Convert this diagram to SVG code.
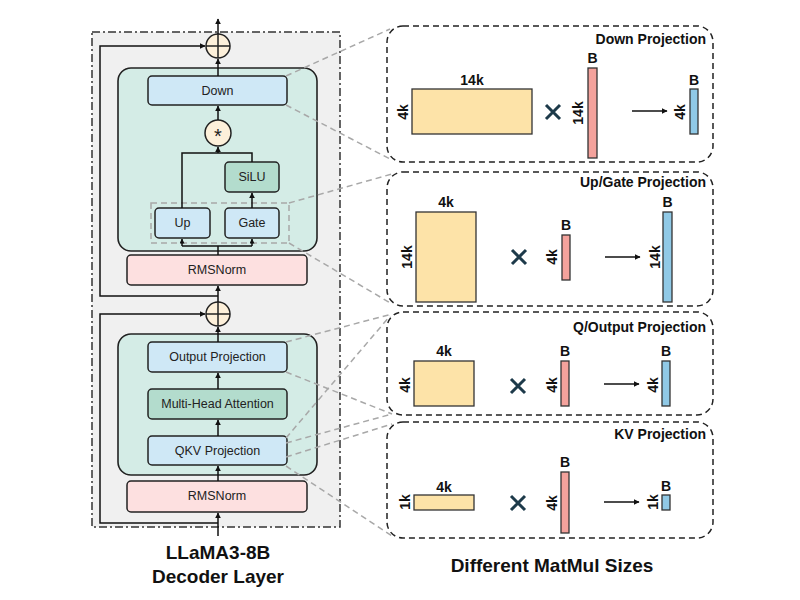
<svg xmlns="http://www.w3.org/2000/svg" width="800" height="600" viewBox="0 0 800 600">
<defs>
<marker id="ah" viewBox="0 0 10 10" refX="9" refY="5" markerWidth="6" markerHeight="6" markerUnits="userSpaceOnUse" orient="auto">
<path d="M0,0 L10,5 L0,10 z" fill="#111"/>
</marker>
<marker id="ahs" viewBox="0 0 10 10" refX="9" refY="5" markerWidth="5" markerHeight="5" markerUnits="userSpaceOnUse" orient="auto">
<path d="M0,0 L10,5 L0,10 z" fill="#111"/>
</marker>
</defs>
<style>
.lbl{font-family:"Liberation Sans",Arial,sans-serif;font-size:12.5px;fill:#222;text-anchor:middle}
.b{font-family:"Liberation Sans",Arial,sans-serif;font-weight:bold;font-size:14px;fill:#111;text-anchor:middle}
.ttl{font-family:"Liberation Sans",Arial,sans-serif;font-weight:bold;font-size:14px;fill:#111;text-anchor:end}
.cap{font-family:"Liberation Sans",Arial,sans-serif;font-weight:bold;font-size:19px;fill:#111;text-anchor:middle}
.node{stroke:#222;stroke-width:1.5}
.blue{fill:#cfe8f6}
.dteal{fill:#b3dccd}
.pink{fill:#fde0e0}
.teal{fill:#d4ece6;stroke:#222;stroke-width:1.6}
.adder{fill:#fdf0da;stroke:#222;stroke-width:1.5}
.conn{fill:none;stroke:#111;stroke-width:1.5}
.gd{fill:none;stroke:#a8a8a8;stroke-width:1.5;stroke-dasharray:6 4}
.panel{fill:#fff;stroke:#222;stroke-width:1.5;stroke-dasharray:6 4}
.mat{stroke:#333;stroke-width:1.3}
.yel{fill:#fde3a8}
.pcol{fill:#f4a29c}
.bcol{fill:#90c9e6}
.x{stroke:#1d3a4a;stroke-width:3;stroke-linecap:butt}
</style>

<!-- outer decoder layer box -->
<rect id="decoder-layer" x="92" y="32" width="248" height="495" fill="#f0f0f0" stroke="#333" stroke-width="1.5" stroke-dasharray="8 3 2 3"/>

<g id="mlp-block"><rect class="teal" x="118" y="68" width="199" height="183" rx="13"/></g>
<g id="attn-block"><rect class="teal" x="118" y="334" width="199" height="141" rx="13"/></g>

<g id="adder1"><circle class="adder" cx="218" cy="46" r="12"/><path d="M206,46 H230 M218,34 V58" stroke="#222" stroke-width="1.5"/></g>
<g id="adder2"><circle class="adder" cx="218" cy="314" r="12"/><path d="M206,314 H230 M218,302 V326" stroke="#222" stroke-width="1.5"/></g>

<g id="down"><rect class="node blue" x="148" y="76" width="139" height="29" rx="4"/><text class="lbl" x="217.5" y="95">Down</text></g>
<g id="mul"><circle class="adder" cx="218" cy="133" r="13"/><text x="218" y="143" font-family="Liberation Sans,Arial,sans-serif" font-size="20" fill="#222" text-anchor="middle">*</text></g>
<g id="silu"><rect class="node dteal" x="225" y="162" width="54" height="30" rx="4"/><text class="lbl" x="252" y="181">SiLU</text></g>
<g id="up"><rect class="node blue" x="155" y="208" width="55" height="30" rx="4"/><text class="lbl" x="182.5" y="227">Up</text></g>
<g id="gate"><rect class="node blue" x="225" y="208" width="54" height="30" rx="4"/><text class="lbl" x="252" y="227">Gate</text></g>
<g id="upgate-group"><rect x="151" y="203" width="138" height="40" fill="none" stroke="#a8a8a8" stroke-width="1.5" stroke-dasharray="6 4"/></g>
<g id="rmsnorm1"><rect class="node pink" x="127" y="255" width="180" height="30" rx="4"/><text class="lbl" x="217" y="274">RMSNorm</text></g>

<g id="output-proj"><rect class="node blue" x="148" y="342" width="139" height="30" rx="4"/><text class="lbl" x="217.5" y="361">Output Projection</text></g>
<g id="mha"><rect class="node dteal" x="148" y="389" width="139" height="30" rx="4"/><text class="lbl" x="217.5" y="408">Multi-Head Attention</text></g>
<g id="qkv"><rect class="node blue" x="148" y="436" width="139" height="29" rx="4"/><text class="lbl" x="217.5" y="455">QKV Projection</text></g>
<g id="rmsnorm2"><rect class="node pink" x="127" y="481" width="180" height="31" rx="4"/><text class="lbl" x="217" y="500">RMSNorm</text></g>

<g id="connectors">
<path class="conn" d="M218,536 V513" marker-end="url(#ah)"/>
<path class="conn" d="M218,481 V466" marker-end="url(#ah)"/>
<path class="conn" d="M218,436 V420" marker-end="url(#ah)"/>
<path class="conn" d="M218,389 V373" marker-end="url(#ah)"/>
<path class="conn" d="M218,342 V327" marker-end="url(#ah)"/>
<path class="conn" d="M218,523 H100 V314 H205" marker-end="url(#ah)"/>
<path class="conn" d="M218,302 V286" marker-end="url(#ah)"/>
<path class="conn" d="M218,296 H100 V46 H205" marker-end="url(#ah)"/>
<path class="conn" d="M218,255 V246 M182,246 H252"/>
<path class="conn" d="M182,246 V239" marker-end="url(#ahs)"/>
<path class="conn" d="M252,246 V239" marker-end="url(#ahs)"/>
<path class="conn" d="M252,208 V193" marker-end="url(#ah)"/>
<path class="conn" d="M182,208 V153 H252 V162"/>
<path class="conn" d="M218,153 V147" marker-end="url(#ah)"/>
<path class="conn" d="M218,120 V106" marker-end="url(#ah)"/>
<path class="conn" d="M218,76 V59" marker-end="url(#ah)"/>
<path class="conn" d="M218,34 V19" marker-end="url(#ah)"/>

<path class="gd" d="M286,76 L390,29"/>
<path class="gd" d="M286,105 L392,160"/>
<path class="gd" d="M289,203 L392,174"/>
<path class="gd" d="M289,243 L392,304"/>
<path class="gd" d="M286,342 L392,314"/>
<path class="gd" d="M286,372 L392,414"/>
<path class="gd" d="M286,438 L390,316"/>
<path class="gd" d="M286,443 L392,414"/>
<path class="gd" d="M286,457 L392,424"/>
<path class="gd" d="M286,466 L392,536"/>
</g>

<text class="cap" x="218" y="559">LLaMA3-8B</text>
<text class="cap" x="218" y="583">Decoder Layer</text>

<g id="panel-down">
<rect class="panel" x="387" y="26" width="326" height="136" rx="16"/>
<text class="ttl" x="706" y="44">Down Projection</text>
<rect class="mat yel" x="412" y="89" width="120" height="45"/>
<text class="b" x="472" y="85">14k</text>
<text class="b" transform="translate(403,112) rotate(-90)" x="0" y="5">4k</text>
<path class="x" d="M546,105 L560,119 M560,105 L546,119"/>
<rect class="mat pcol" x="588" y="68" width="9" height="90"/>
<text class="b" x="592.5" y="63">B</text>
<text class="b" transform="translate(578,113) rotate(-90)" x="0" y="5">14k</text>
<path class="conn" d="M632,111 H667" marker-end="url(#ah)"/>
<text class="b" transform="translate(680,112) rotate(-90)" x="0" y="5">4k</text>
<rect class="mat bcol" x="690" y="89" width="8" height="45"/>
<text class="b" x="694" y="85">B</text>
</g>

<g id="panel-upgate">
<rect class="panel" x="387" y="172" width="326" height="134" rx="16"/>
<text class="ttl" x="706" y="187">Up/Gate Projection</text>
<rect class="mat yel" x="416" y="212" width="60" height="90"/>
<text class="b" x="446" y="207">4k</text>
<text class="b" transform="translate(407,257) rotate(-90)" x="0" y="5">14k</text>
<path class="x" d="M512,250 L526,264 M526,250 L512,264"/>
<rect class="mat pcol" x="562" y="235" width="8" height="45"/>
<text class="b" x="566" y="230">B</text>
<text class="b" transform="translate(552,257) rotate(-90)" x="0" y="5">4k</text>
<path class="conn" d="M605,257 H640" marker-end="url(#ah)"/>
<text class="b" transform="translate(655,257) rotate(-90)" x="0" y="5">14k</text>
<rect class="mat bcol" x="663" y="212" width="9" height="90"/>
<text class="b" x="667.5" y="207">B</text>
</g>

<g id="panel-qout">
<rect class="panel" x="387" y="312" width="326" height="103" rx="16"/>
<text class="ttl" x="706" y="332">Q/Output Projection</text>
<rect class="mat yel" x="414" y="361" width="60" height="45"/>
<text class="b" x="444" y="356">4k</text>
<text class="b" transform="translate(405,385) rotate(-90)" x="0" y="5">4k</text>
<path class="x" d="M511,379 L525,393 M525,379 L511,393"/>
<rect class="mat pcol" x="561" y="361" width="8" height="45"/>
<text class="b" x="565" y="356">B</text>
<text class="b" transform="translate(552,385) rotate(-90)" x="0" y="5">4k</text>
<path class="conn" d="M604,384 H639" marker-end="url(#ah)"/>
<text class="b" transform="translate(653,385) rotate(-90)" x="0" y="5">4k</text>
<rect class="mat bcol" x="662" y="361" width="8" height="45"/>
<text class="b" x="666" y="356">B</text>
</g>

<g id="panel-kv">
<rect class="panel" x="387" y="422" width="326" height="116" rx="16"/>
<text class="ttl" x="706" y="439">KV Projection</text>
<rect class="mat yel" x="414" y="495" width="60" height="15"/>
<text class="b" x="444" y="492">4k</text>
<text class="b" transform="translate(405,502) rotate(-90)" x="0" y="5">1k</text>
<path class="x" d="M511,496 L525,510 M525,496 L511,510"/>
<rect class="mat pcol" x="561" y="472" width="8" height="61"/>
<text class="b" x="565" y="467">B</text>
<text class="b" transform="translate(552,503) rotate(-90)" x="0" y="5">4k</text>
<path class="conn" d="M604,502 H639" marker-end="url(#ah)"/>
<text class="b" transform="translate(653,502) rotate(-90)" x="0" y="5">1k</text>
<rect class="mat bcol" x="662" y="495" width="8" height="15"/>
<text class="b" x="666" y="491">B</text>
</g>

<text x="552" y="572" font-family="Liberation Sans,Arial,sans-serif" font-weight="bold" font-size="19" fill="#111" text-anchor="middle">Different MatMul Sizes</text>
</svg>
